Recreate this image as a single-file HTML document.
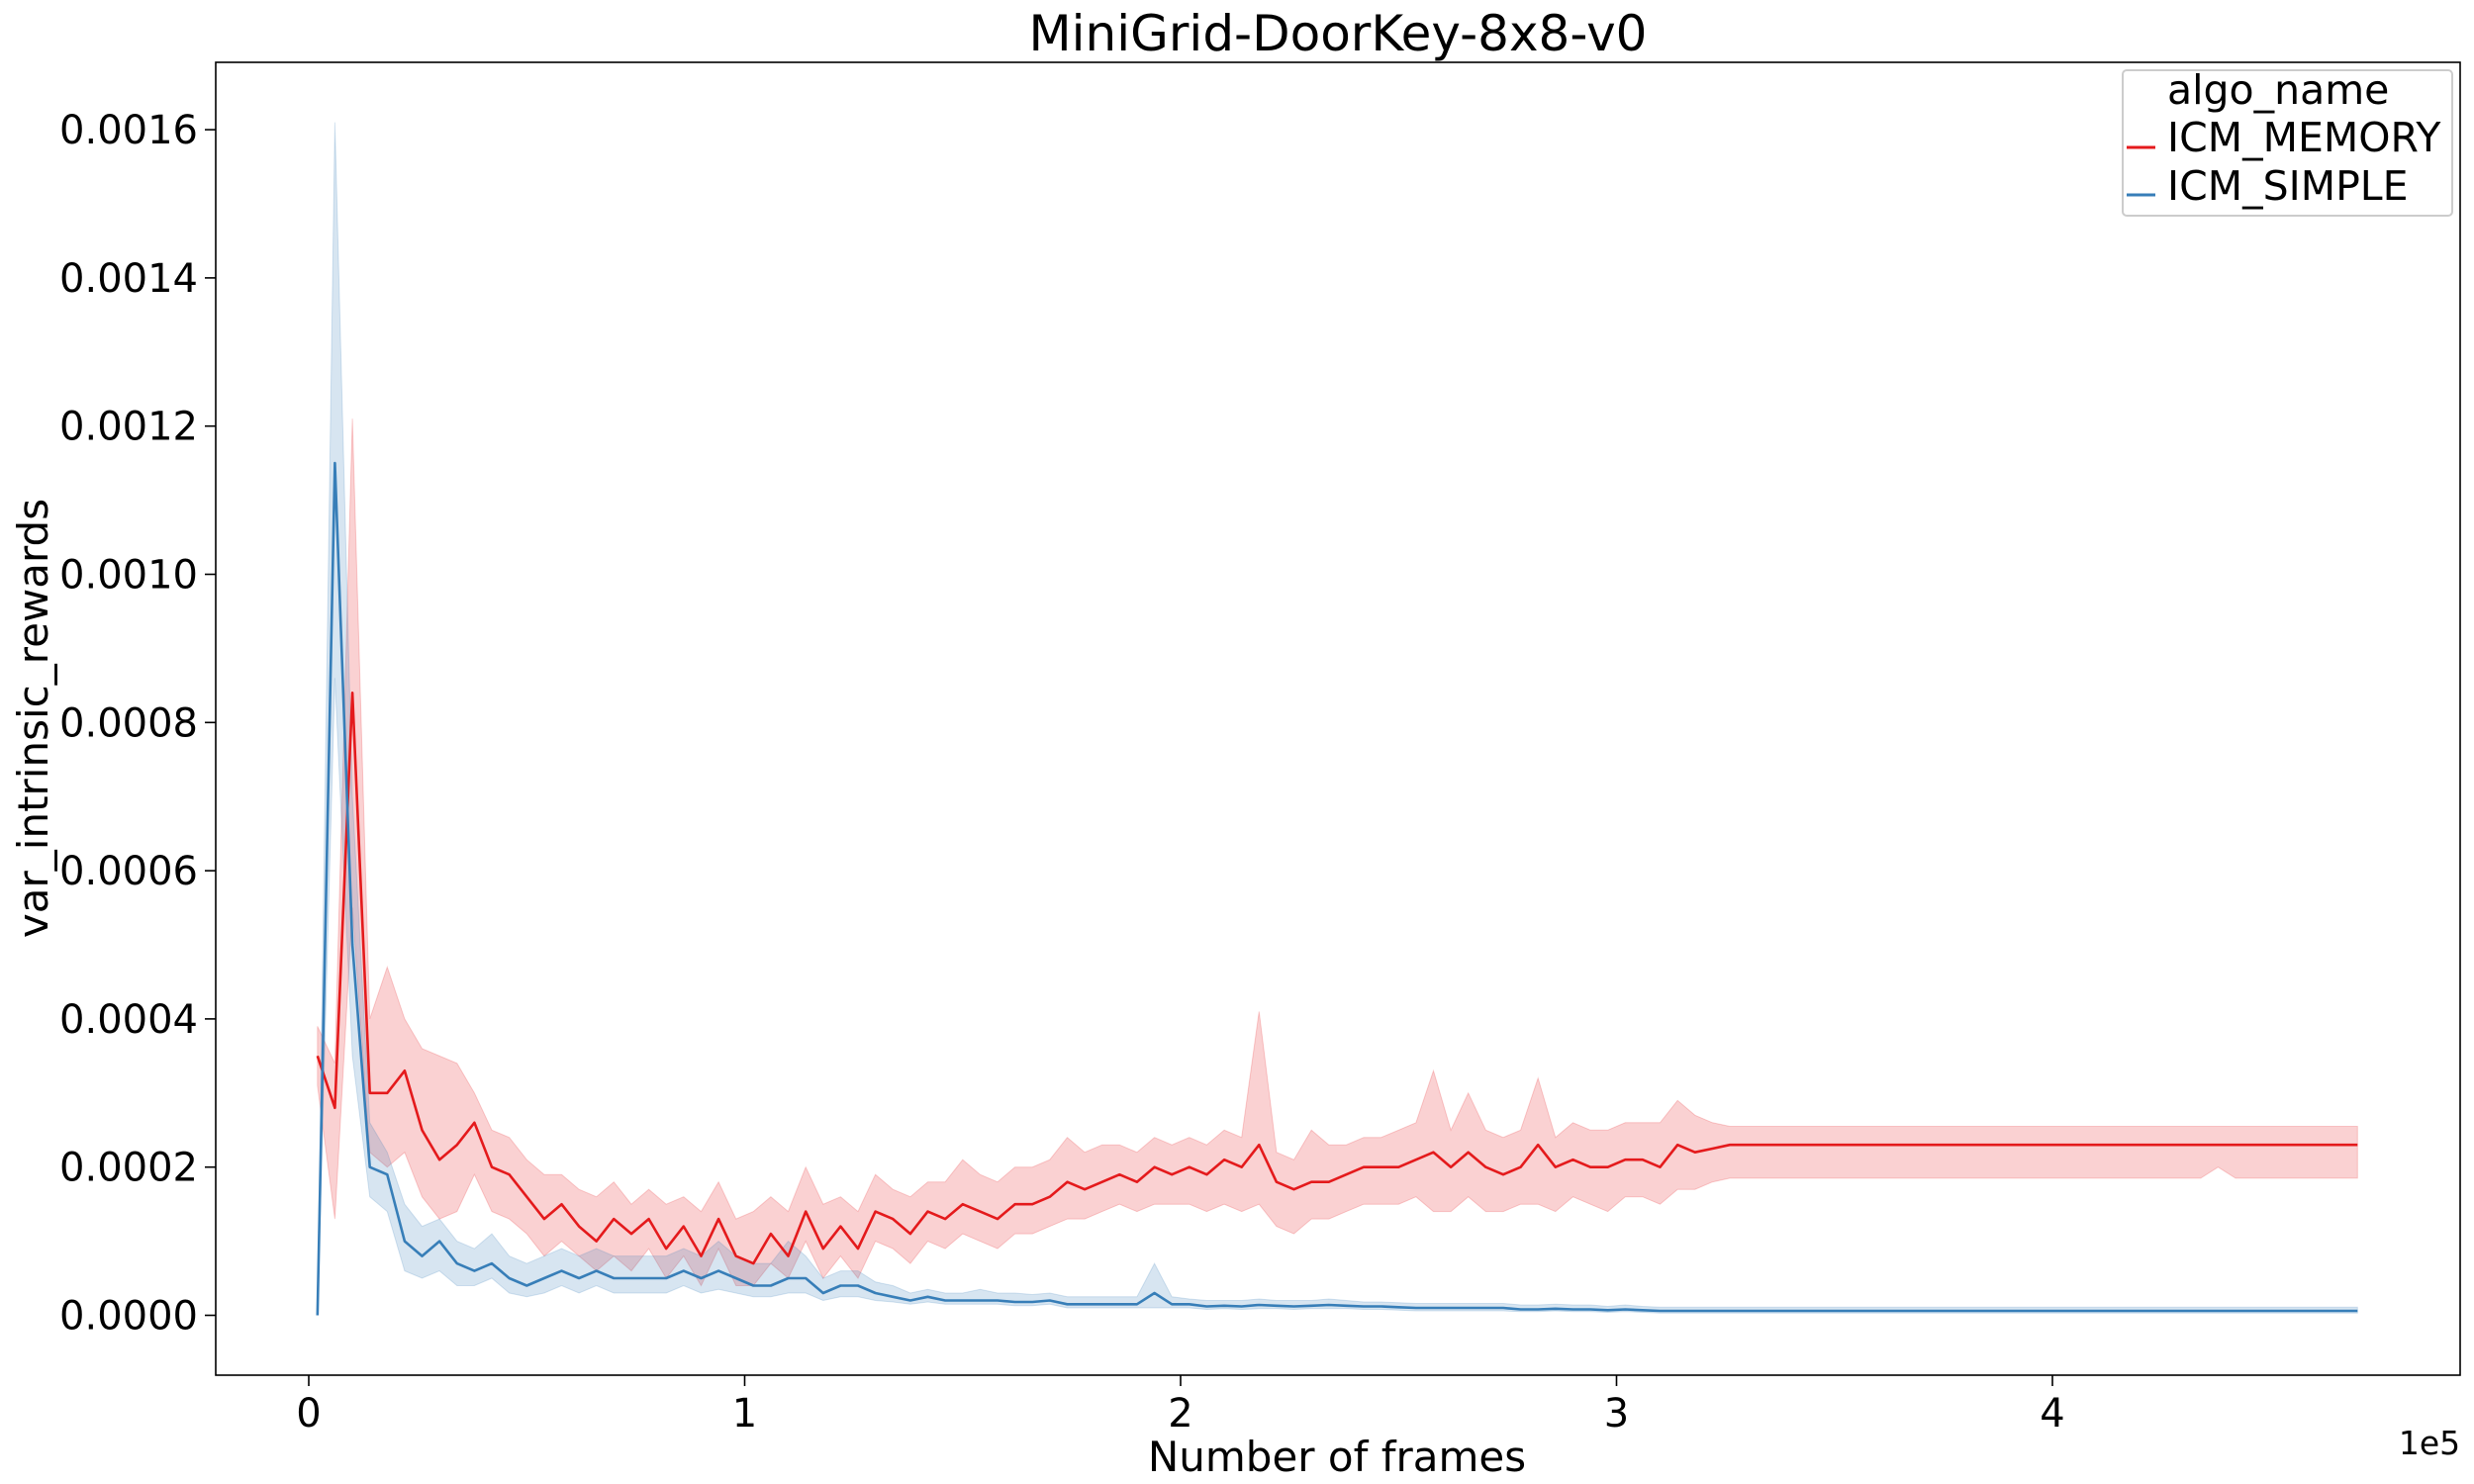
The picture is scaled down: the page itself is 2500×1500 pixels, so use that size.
<!DOCTYPE html>
<html><head><meta charset="utf-8"><style>
html,body{margin:0;padding:0;background:#fff;}
svg{display:block;font-family:"DejaVu Sans","Liberation Sans",sans-serif;}
</style></head><body>
<svg id="chart" width="2500" height="1500" viewBox="0 0 2500 1500" xmlns="http://www.w3.org/2000/svg">
<rect width="2500" height="1500" fill="#fff"/>
<text x="1352" y="51" font-size="50" text-anchor="middle">MiniGrid-DoorKey-8x8-v0</text>
<g id="plot"></g>
<g id="axes"></g>
<text x="1351" y="1487" font-size="42" text-anchor="middle">Number of frames</text>
<text x="2455" y="1470" font-size="33" text-anchor="middle">1e5</text>
<text transform="translate(48,726) rotate(-90)" font-size="42" text-anchor="middle">var_intrinsic_rewards</text>
<g>
<rect x="2145" y="71" width="333" height="147" rx="4" fill="#fff" fill-opacity="0.8" stroke="#ccc" stroke-width="2"/>
<text x="2190" y="105" font-size="41">algo_name</text>
<line x1="2149" y1="149" x2="2178" y2="149" stroke="#e41a1c" stroke-width="3"/>
<text x="2190" y="153" font-size="41">ICM_MEMORY</text>
<line x1="2149" y1="197" x2="2178" y2="197" stroke="#377eb8" stroke-width="3"/>
<text x="2190" y="202" font-size="41">ICM_SIMPLE</text>
</g>
</svg>
<script>
// data (values in units of 1e-4), frames start at 2000, step 4000
const frameStart = 2000;
const frameStep = 4000;
const xTicks = [0, 1, 2, 3, 4];
const xTickLabels = ["0", "1", "2", "3", "4"];
const yTicks = [0, 2, 4, 6, 8, 10, 12, 14, 16];
const yTickLabels = ["0.0000","0.0002","0.0004","0.0006","0.0008","0.0010","0.0012","0.0014","0.0016"];
const memoryMean = [3.5,2.8,8.4,3.0,3.0,3.3,2.5,2.1,2.3,2.6,
2.0,1.9,1.6,1.3,1.5,1.2,1.0,1.3,1.1,1.3,
0.9,1.2,0.8,1.3,0.8,0.7,1.1,0.8,1.4,0.9,
1.2,0.9,1.4,1.3,1.1,1.4,1.3,1.5,1.4,1.3,
1.5,1.5,1.6,1.8,1.7,1.8,1.9,1.8,2.0,1.9,
2.0,1.9,2.1,2.0,2.3,1.8,1.7,1.8,1.8,1.9,
2.0,2.0,2.0,2.1,2.2,2.0,2.2,2.0,1.9,2.0,
2.3,2.0,2.1,2.0,2.0,2.1,2.1,2.0,2.3,2.2,
2.25,2.3,2.3,2.3,2.3,2.3,2.3,2.3,2.3,2.3,
2.3,2.3,2.3,2.3,2.3,2.3,2.3,2.3,2.3,2.3,
2.3,2.3,2.3,2.3,2.3,2.3,2.3,2.3,2.3,2.3,
2.3,2.3,2.3,2.3,2.3,2.3,2.3,2.3];
const memoryUpper = [3.9,3.4,12.1,4.0,4.7,4.0,3.6,3.5,3.4,3.0,
2.5,2.4,2.1,1.9,1.9,1.7,1.6,1.8,1.5,1.7,
1.5,1.6,1.4,1.8,1.3,1.4,1.6,1.4,2.0,1.5,
1.6,1.4,1.9,1.7,1.6,1.8,1.8,2.1,1.9,1.8,
2.0,2.0,2.1,2.4,2.2,2.3,2.3,2.2,2.4,2.3,
2.4,2.3,2.5,2.4,4.1,2.2,2.1,2.5,2.3,2.3,
2.4,2.4,2.5,2.6,3.3,2.5,3.0,2.5,2.4,2.5,
3.2,2.4,2.6,2.5,2.5,2.6,2.6,2.6,2.9,2.7,
2.6,2.55,2.55,2.55,2.55,2.55,2.55,2.55,2.55,2.55,
2.55,2.55,2.55,2.55,2.55,2.55,2.55,2.55,2.55,2.55,
2.55,2.55,2.55,2.55,2.55,2.55,2.55,2.55,2.55,2.55,
2.55,2.55,2.55,2.55,2.55,2.55,2.55,2.55];
const memoryLower = [3.1,1.3,5.5,2.2,2.0,2.2,1.6,1.3,1.4,1.9,
1.4,1.3,1.1,0.8,1.0,0.8,0.6,0.8,0.6,0.9,
0.5,0.8,0.4,0.9,0.4,0.4,0.7,0.5,1.0,0.5,
0.8,0.5,1.0,0.9,0.7,1.0,0.9,1.1,1.0,0.9,
1.1,1.1,1.2,1.3,1.3,1.4,1.5,1.4,1.5,1.5,
1.5,1.4,1.5,1.4,1.5,1.2,1.1,1.3,1.3,1.4,
1.5,1.5,1.5,1.6,1.4,1.4,1.6,1.4,1.4,1.5,
1.5,1.4,1.6,1.5,1.4,1.6,1.6,1.5,1.7,1.7,
1.8,1.85,1.85,1.85,1.85,1.85,1.85,1.85,1.85,1.85,
1.85,1.85,1.85,1.85,1.85,1.85,1.85,1.85,1.85,1.85,
1.85,1.85,1.85,1.85,1.85,1.85,1.85,1.85,1.85,2.0,
1.85,1.85,1.85,1.85,1.85,1.85,1.85,1.85];
const simpleMean = [0.0,11.5,5.0,2.0,1.9,1.0,0.8,1.0,0.7,0.6,
0.7,0.5,0.4,0.5,0.6,0.5,0.6,0.5,0.5,0.5,
0.5,0.6,0.5,0.6,0.5,0.4,0.4,0.5,0.5,0.3,
0.4,0.4,0.3,0.25,0.2,0.25,0.2,0.2,0.2,0.2,
0.18,0.18,0.2,0.15,0.15,0.15,0.15,0.15,0.3,0.15,
0.15,0.12,0.13,0.12,0.14,0.13,0.12,0.13,0.14,0.13,
0.12,0.12,0.11,0.1,0.1,0.1,0.1,0.1,0.1,0.08,
0.08,0.09,0.08,0.08,0.07,0.08,0.07,0.06,0.06,0.06,
0.06,0.06,0.06,0.06,0.06,0.06,0.06,0.06,0.06,0.06,
0.06,0.06,0.06,0.06,0.06,0.06,0.06,0.06,0.06,0.06,
0.06,0.06,0.06,0.06,0.06,0.06,0.06,0.06,0.06,0.06,
0.06,0.06,0.06,0.06,0.06,0.06,0.06,0.06];
const simpleUpper = [0.1,16.1,7.0,2.6,2.2,1.5,1.2,1.3,1.0,0.9,
1.1,0.8,0.7,0.8,0.9,0.8,0.9,0.8,0.8,0.8,
0.8,0.9,0.8,1.0,0.8,0.7,0.7,1.0,0.8,0.5,
0.6,0.6,0.45,0.4,0.3,0.35,0.3,0.3,0.35,0.3,
0.3,0.28,0.3,0.25,0.25,0.25,0.25,0.25,0.7,0.25,
0.22,0.2,0.2,0.2,0.22,0.2,0.2,0.2,0.22,0.2,
0.18,0.18,0.17,0.16,0.16,0.16,0.16,0.16,0.16,0.14,
0.14,0.15,0.14,0.14,0.12,0.14,0.12,0.11,0.11,0.11,
0.11,0.11,0.11,0.11,0.11,0.11,0.11,0.11,0.11,0.11,
0.11,0.11,0.11,0.11,0.11,0.11,0.11,0.11,0.11,0.11,
0.11,0.11,0.11,0.11,0.11,0.11,0.11,0.11,0.11,0.11,
0.11,0.11,0.11,0.11,0.11,0.11,0.11,0.11];
const simpleLower = [0.0,8.6,3.5,1.6,1.4,0.6,0.5,0.6,0.4,0.4,
0.5,0.3,0.25,0.3,0.4,0.3,0.4,0.3,0.3,0.3,
0.3,0.4,0.3,0.35,0.3,0.25,0.25,0.3,0.3,0.2,
0.25,0.25,0.2,0.18,0.15,0.18,0.15,0.15,0.15,0.15,
0.13,0.13,0.15,0.1,0.1,0.1,0.1,0.1,0.1,0.1,
0.1,0.08,0.09,0.08,0.09,0.09,0.08,0.09,0.09,0.09,
0.08,0.08,0.07,0.06,0.06,0.06,0.06,0.06,0.06,0.05,
0.05,0.06,0.05,0.05,0.04,0.05,0.04,0.03,0.03,0.03,
0.03,0.03,0.03,0.03,0.03,0.03,0.03,0.03,0.03,0.03,
0.03,0.03,0.03,0.03,0.03,0.03,0.03,0.03,0.03,0.03,
0.03,0.03,0.03,0.03,0.03,0.03,0.03,0.03,0.03,0.03,
0.03,0.03,0.03,0.03,0.03,0.03,0.03,0.03];

const NS = "http://www.w3.org/2000/svg";
const L = 218, R = 2486, T = 63, B = 1390;
function xScale(frames){ return 312 + frames / 1e5 * 440.5; }
function yScale(v){ return 1329.5 - v / 2 * 149.8; }
function frameAt(i){ return frameStart + i * frameStep; }

const plot = document.getElementById('plot');
const axes = document.getElementById('axes');

function band(upper, lower, color, name){
  let d = '';
  for (let i = 0; i < upper.length; i++) d += (i ? 'L' : 'M') + xScale(frameAt(i)).toFixed(1) + ',' + yScale(upper[i]).toFixed(1);
  for (let i = lower.length - 1; i >= 0; i--) d += 'L' + xScale(frameAt(i)).toFixed(1) + ',' + yScale(lower[i]).toFixed(1);
  const p = document.createElementNS(NS, 'path');
  p.setAttribute('d', d + 'Z');
  p.setAttribute('fill', color);
  p.setAttribute('fill-opacity', '0.2');
  p.setAttribute('stroke', color);
  p.setAttribute('stroke-opacity', '0.2');
  
  
  plot.appendChild(p);
}
function line(vals, color, name){
  let d = '';
  for (let i = 0; i < vals.length; i++) d += (i ? 'L' : 'M') + xScale(frameAt(i)).toFixed(1) + ',' + yScale(vals[i]).toFixed(1);
  const p = document.createElementNS(NS, 'path');
  p.setAttribute('d', d);
  p.setAttribute('fill', 'none');
  p.setAttribute('stroke', color);
  p.setAttribute('stroke-width', '2.6');
  p.setAttribute('stroke-linejoin', 'round');
  
  
  plot.appendChild(p);
}
band(memoryUpper, memoryLower, '#e41a1c', 'icm-memory-ci-band');
band(simpleUpper, simpleLower, '#377eb8', 'icm-simple-ci-band');
line(memoryMean, '#e41a1c', 'icm-memory-line');
line(simpleMean, '#377eb8', 'icm-simple-line');

const frame = document.createElementNS(NS, 'rect');
frame.setAttribute('x', L); frame.setAttribute('y', T);
frame.setAttribute('width', R - L); frame.setAttribute('height', B - T);
frame.setAttribute('fill', 'none'); frame.setAttribute('stroke', '#000'); frame.setAttribute('stroke-width', '1.6');


axes.appendChild(frame);

xTicks.forEach((t, i) => {
  const x = xScale(t * 1e5);
  const tk = document.createElementNS(NS, 'line');
  tk.setAttribute('x1', x); tk.setAttribute('x2', x); tk.setAttribute('y1', B); tk.setAttribute('y2', B + 11);
  tk.setAttribute('stroke', '#000'); tk.setAttribute('stroke-width', '1.6');
  
  
  axes.appendChild(tk);
  const tx = document.createElementNS(NS, 'text');
  tx.setAttribute('x', x); tx.setAttribute('y', B + 52);
  tx.setAttribute('font-size', '40'); tx.setAttribute('text-anchor', 'middle');
  tx.textContent = xTickLabels[i];
  
  
  axes.appendChild(tx);
});
yTicks.forEach((t, i) => {
  const y = yScale(t);
  const tk = document.createElementNS(NS, 'line');
  tk.setAttribute('x1', L - 11); tk.setAttribute('x2', L); tk.setAttribute('y1', y); tk.setAttribute('y2', y);
  tk.setAttribute('stroke', '#000'); tk.setAttribute('stroke-width', '1.6');
  
  
  axes.appendChild(tk);
  const tx = document.createElementNS(NS, 'text');
  tx.setAttribute('x', L - 18); tx.setAttribute('y', y + 14);
  tx.setAttribute('font-size', '40'); tx.setAttribute('text-anchor', 'end');
  tx.textContent = yTickLabels[i];
  
  
  axes.appendChild(tx);
});
</script>
</body></html>
